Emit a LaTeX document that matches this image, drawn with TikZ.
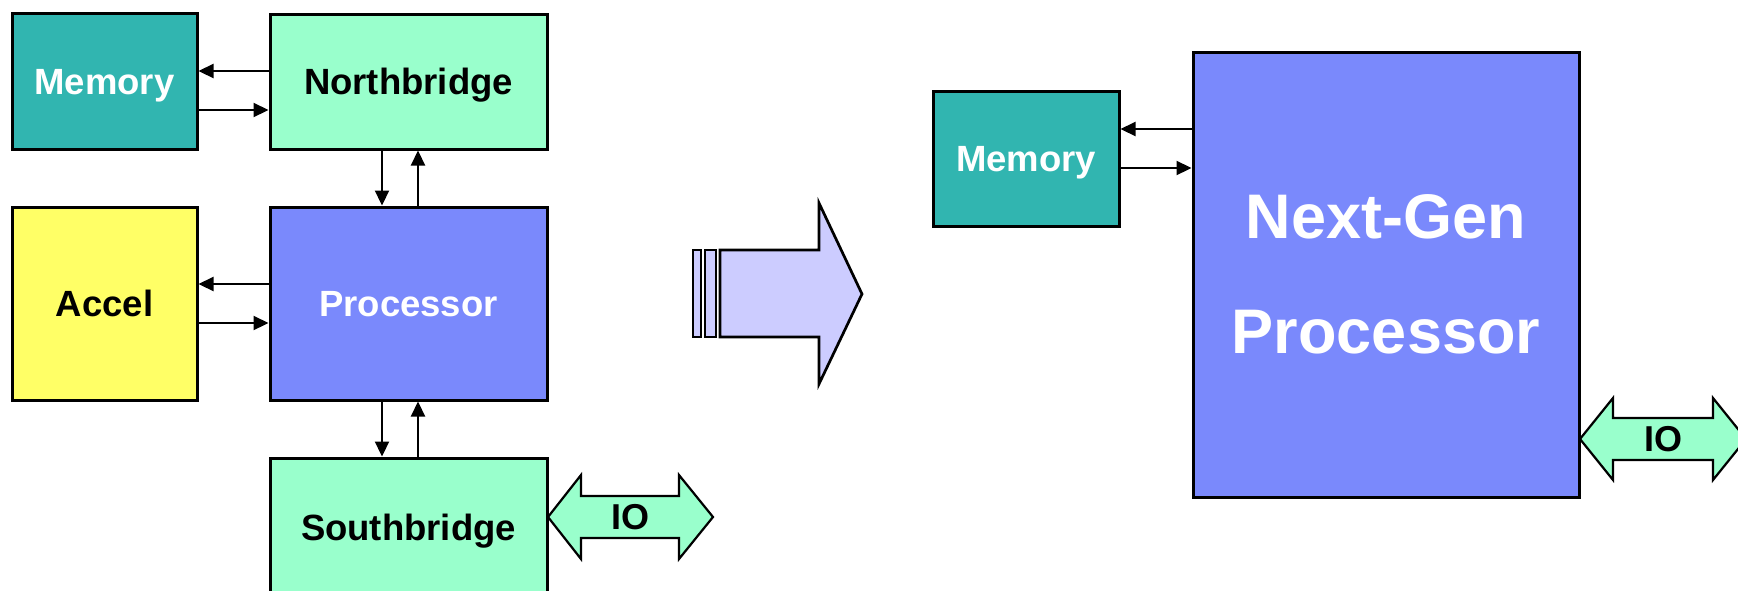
\documentclass[tikz,border=0pt]{standalone}
\usepackage{fontspec}
\setmainfont{Liberation Sans}
\usetikzlibrary{arrows.meta}
\definecolor{tealbox}{RGB}{49,181,176}
\definecolor{mintbox}{RGB}{153,255,204}
\definecolor{yelbox}{RGB}{255,255,102}
\definecolor{procbox}{RGB}{122,137,252}
\definecolor{lavarrow}{RGB}{204,204,255}
\begin{document}
\begin{tikzpicture}[x=1pt,y=-1pt,
  box/.style={draw=black, line width=3pt, inner sep=0pt,
    font=\fontsize{36.5}{40}\selectfont\bfseries, text depth=0pt, text height=26pt},
  bigbox/.style={draw=black, line width=3pt, inner sep=0pt, align=center,
    font=\fontsize{63}{115}\selectfont\bfseries},
  link/.style={line width=2.2pt, -{Triangle[length=15pt,width=14pt]}},
  ioarrow/.style={draw=black, line width=2.2pt, fill=mintbox, line join=miter},
  iotext/.style={inner sep=0pt, font=\fontsize{36}{40}\selectfont\bfseries, text depth=0pt, text height=26pt},
  bigarrow/.style={draw=black, line width=2.7pt, fill=lavarrow, line join=miter}]
\useasboundingbox (0,0) rectangle (1738,590);
\clip (0,0) rectangle (1738,590);

% left system
\node[box, fill=tealbox, text=white, minimum width=185pt, minimum height=136pt] (mem1) at (104.5,81) {Memory};
\node[box, fill=mintbox, minimum width=277pt, minimum height=135pt] (nb) at (408.5,81.5) {Northbridge};
\node[box, fill=yelbox, minimum width=185pt, minimum height=193pt] (acc) at (104.5,303.5) {Accel};
\node[box, fill=procbox, text=white, minimum width=277pt, minimum height=193pt] (proc) at (408.5,303.5) {Processor};
\node[box, fill=mintbox, minimum width=277pt, minimum height=138pt] (sb) at (408.5,527) {Southbridge};

\draw[link] (nb.west |- 0,71) -- (mem1.east |- 0,71);
\draw[link] (mem1.east |- 0,110) -- (nb.west |- 0,110);
\draw[link] (proc.west |- 0,284) -- (acc.east |- 0,284);
\draw[link] (acc.east |- 0,323) -- (proc.west |- 0,323);
\draw[link] (nb.south -| 382,0) -- (proc.north -| 382,0);
\draw[link] (proc.north -| 418,0) -- (nb.south -| 418,0);
\draw[link] (proc.south -| 382,0) -- (sb.north -| 382,0);
\draw[link] (sb.north -| 418,0) -- (proc.south -| 418,0);

% left IO
\draw[ioarrow] (548,517) -- (581,475) -- (581,496) -- (679,496) -- (679,475) -- (713,517)
  -- (679,559) -- (679,538) -- (581,538) -- (581,559) -- cycle;
\node[iotext] (io1) at (630,516.5) {IO};

% transformation arrow
\draw[bigarrow] (693,250) rectangle (701,337);
\draw[bigarrow] (705,250) rectangle (716,337);
\draw[bigarrow] (720,250) -- (819,250) -- (819,203) -- (862,294) -- (819,384) -- (819,337) -- (720,337) -- cycle;

% right system
\node[box, fill=tealbox, text=white, minimum width=186pt, minimum height=135pt] (mem2) at (1026,158.5) {Memory};
\node[bigbox, fill=procbox, text=white, minimum width=386pt, minimum height=445pt] (ngp) at (1386,274.5) {Next-Gen\\Processor};

\draw[link] (ngp.west |- 0,129) -- (mem2.east |- 0,129);
\draw[link] (mem2.east |- 0,168) -- (ngp.west |- 0,168);

% right IO
\draw[ioarrow] (1580,439) -- (1613,398) -- (1613,418) -- (1713,418) -- (1713,398) -- (1746,439)
  -- (1713,480) -- (1713,460) -- (1613,460) -- (1613,480) -- cycle;
\node[iotext] (io2) at (1663,438.5) {IO};
\end{tikzpicture}
\end{document}
